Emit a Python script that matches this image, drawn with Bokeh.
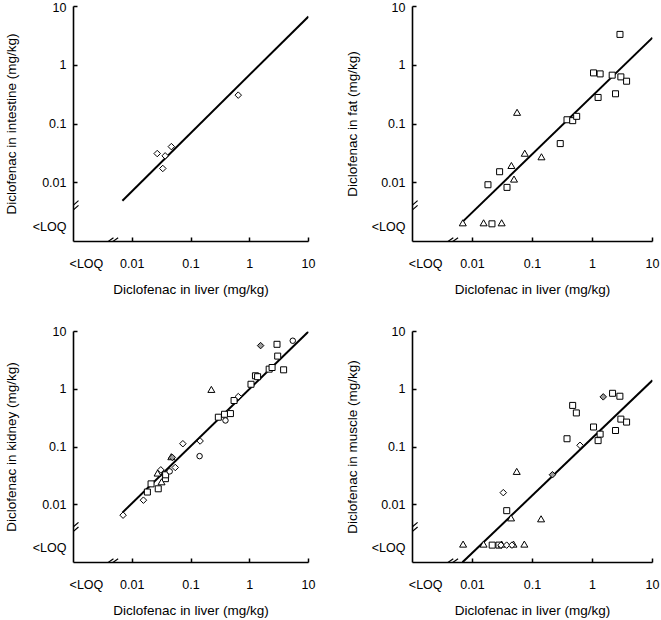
import numpy as np
from bokeh.plotting import figure
from bokeh.models import FixedTicker, Range1d, Arrow
from bokeh.layouts import gridplot
from bokeh.embed import file_html
from bokeh.resources import INLINE

# ---------------- data (mg/kg); None = below limit of quantification ----------------
LOQ_POS = 0.002          # plotting position used for "<LOQ" samples
LOQ_TICK_X = 0.00166     # position of the "<LOQ" label on the x axis
LOQ_TICK_Y = 0.0018      # position of the "<LOQ" label on the y axis
DECADES = [0.01, 0.1, 1.0, 10.0]
DECADE_LABELS = ["0.01", "0.1", "1", "10"]
X_LABEL = "Diclofenac in liver (mg/kg)"

# Intestine
int_diam_liver = [0.0266, 0.0363, 0.0463, 0.0331, 0.637]
int_diam_tissue = [0.0314, 0.0287, 0.0412, 0.0175, 0.31]

# Fat
fat_sq_liver = [2.87, 1.04, 1.34, 2.13, 2.97, 3.70, 1.24, 2.42, 0.376, 0.468, 0.545, 0.290,
                0.0283, 0.0181, 0.0376, 0.0211]
fat_sq_tissue = [3.35, 0.741, 0.713, 0.678, 0.634, 0.535, 0.283, 0.327, 0.118, 0.114, 0.135, 0.0464,
                 0.0154, 0.00925, 0.00834, None]
fat_tri_liver = [0.0553, 0.0743, 0.141, 0.0445, 0.0492, 0.00689, 0.0153, 0.0306]
fat_tri_tissue = [0.152, 0.0306, 0.0266, 0.0189, 0.0111, None, None, None]

# Kidney
kid_diam_liver = [0.00698, 0.0155, 0.0306, 0.054, 0.0727, 0.143, 0.638]
kid_diam_tissue = [0.0066, 0.012, 0.0402, 0.0442, 0.114, 0.127, 0.746]
kid_gdiam_liver = [1.53, 0.048]
kid_gdiam_tissue = [5.70, 0.066]
kid_sq_liver = [0.0181, 0.0209, 0.0277, 0.0367, 0.037, 0.292, 0.372, 0.469, 0.541, 1.05, 1.25, 1.36,
                2.14, 2.40, 2.91, 2.99, 3.77]
kid_sq_tissue = [0.0166, 0.023, 0.0189, 0.0283, 0.033, 0.328, 0.369, 0.379, 0.638, 1.22, 1.71, 1.65,
                 2.23, 2.38, 6.0, 3.75, 2.17]
kid_tri_liver = [0.027, 0.0315, 0.0462, 0.222]
kid_tri_tissue = [0.034, 0.024, 0.0653, 0.955]
kid_circ_liver = [0.0434, 0.14, 0.386, 5.4]
kid_circ_tissue = [0.0378, 0.0695, 0.288, 6.92]

# Muscle
mus_sq_liver = [2.16, 2.86, 0.467, 0.538, 2.97, 3.70, 1.04, 2.42, 1.34, 1.24, 0.376, 0.0372, 0.0213, 0.0276]
mus_sq_tissue = [0.851, 0.757, 0.525, 0.389, 0.304, 0.270, 0.222, 0.193, 0.167, 0.129, 0.139, 0.0079,
                 None, None]
mus_diam_liver = [0.62, 0.0326, 0.0298, 0.0371, 0.0455]
mus_diam_tissue = [0.107, 0.0162, None, None, None]
mus_gdiam_liver = [1.51, 0.215]
mus_gdiam_tissue = [0.738, 0.0331]
mus_tri_liver = [0.0546, 0.0439, 0.139, 0.00697, 0.0153, 0.0306, 0.0482, 0.0731]
mus_tri_tissue = [0.0363, 0.00569, 0.00548, None, None, None, None, None]

# log-log regression lines: log10(tissue) = intercept + slope * log10(liver)
fit_slope = {"intestine": 0.99, "fat": 0.99, "kidney": 0.99, "muscle": 0.995}
fit_intercept = {"intestine": -0.16, "fat": -0.52, "kidney": 0.01, "muscle": -0.84}
fit_x_range = [0.0068, 10.0]

# ---------------- styling ----------------
FONT = "Liberation Sans"
TICK_SIZE = "12.5px"
LABEL_SIZE = "13.5px"
GRAY = "#9c9c9c"
BREAK_X_LOGS = [-2.41, -2.33]
BREAK_Y_LOGS = [-2.46, -2.38]


def loq(vals):
    return [LOQ_POS if v is None else v for v in vals]


def add_series(p, xs, ys, kind, fill="white"):
    kw = dict(fill_color=fill, line_color="black", line_width=1)
    if kind == "diamond":
        p.scatter(xs, loq(ys), marker="square", angle=np.pi / 4, size=4.6, **kw)
    elif kind == "square":
        p.scatter(xs, loq(ys), marker="square", size=6, **kw)
    elif kind == "triangle":
        p.scatter(xs, loq(ys), marker="triangle", size=7, **kw)
    elif kind == "circle":
        p.scatter(xs, loq(ys), marker="circle", size=5.5, **kw)


def make_panel(ylabel, key, width, height, bl, br, bt, bb, ylab_standoff):
    p = figure(width=width, height=height, x_axis_type="log", y_axis_type="log",
               x_range=Range1d(1e-3, 10), y_range=Range1d(1e-3, 10),
               output_backend="svg", toolbar_location=None,
               min_border_left=bl, min_border_right=br, min_border_top=bt, min_border_bottom=bb)
    p.grid.visible = False
    p.outline_line_color = None
    p.background_fill_color = "white"
    p.border_fill_color = "white"

    for ax, lab, loq_tick in ((p.xaxis[0], X_LABEL, LOQ_TICK_X), (p.yaxis[0], ylabel, LOQ_TICK_Y)):
        ax.ticker = FixedTicker(ticks=[loq_tick] + DECADES, minor_ticks=DECADES)
        overrides = {loq_tick: "<LOQ"}
        for d, t in zip(DECADES, DECADE_LABELS):
            overrides[d] = t
        ax.major_label_overrides = overrides
        ax.axis_label = lab
        ax.axis_label_text_font = FONT
        ax.axis_label_text_font_size = LABEL_SIZE
        ax.axis_label_text_font_style = "normal"
        ax.axis_label_text_color = "black"
        ax.major_label_text_font = FONT
        ax.major_label_text_font_size = TICK_SIZE
        ax.major_label_text_color = "black"
        ax.axis_line_color = "black"
        ax.axis_line_width = 1.6
        ax.major_tick_in = 0
        ax.major_tick_out = 0
        ax.minor_tick_in = 4
        ax.minor_tick_out = 0
        ax.minor_tick_line_color = "black"
        ax.minor_tick_line_width = 1.5
    p.xaxis.major_label_standoff = 15
    p.xaxis.axis_label_standoff = 8
    p.yaxis.major_label_standoff = 7
    p.yaxis.axis_label_standoff = ylab_standoff

    # regression line
    xl = np.array(fit_x_range)
    yl = 10 ** (fit_intercept[key] + fit_slope[key] * np.log10(xl))
    p.line(xl, yl, line_color="black", line_width=2)

    # axis breaks
    for lx in BREAK_X_LOGS:
        p.add_layout(Arrow(start=None, end=None, line_width=1.2, line_color="black",
                           x_start=10 ** (lx - 0.09), y_start=10 ** (-3 - 0.065),
                           x_end=10 ** (lx + 0.09), y_end=10 ** (-3 + 0.065)))
    for ly in BREAK_Y_LOGS:
        p.add_layout(Arrow(start=None, end=None, line_width=1.2, line_color="black",
                           x_start=10 ** (-3 - 0.085), y_start=10 ** (ly - 0.075),
                           x_end=10 ** (-3 + 0.085), y_end=10 ** (ly + 0.075)))
    return p


p1 = make_panel("Diclofenac in intestine (mg/kg)", "intestine", 330, 310, 68, 22, 6, 69, 11)
add_series(p1, int_diam_liver, int_diam_tissue, "diamond")

p2 = make_panel("Diclofenac in fat (mg/kg)", "fat", 331, 310, 82, 9, 6, 69, 9)
add_series(p2, fat_sq_liver, fat_sq_tissue, "square")
add_series(p2, fat_tri_liver, fat_tri_tissue, "triangle")

p3 = make_panel("Diclofenac in kidney (mg/kg)", "kidney", 330, 310, 68, 22, 21, 54, 11)
add_series(p3, kid_sq_liver, kid_sq_tissue, "square")
add_series(p3, kid_circ_liver, kid_circ_tissue, "circle")
add_series(p3, kid_tri_liver, kid_tri_tissue, "triangle")
add_series(p3, kid_diam_liver, kid_diam_tissue, "diamond")
add_series(p3, kid_gdiam_liver, kid_gdiam_tissue, "diamond", fill=GRAY)

p4 = make_panel("Diclofenac in muscle (mg/kg)", "muscle", 331, 310, 82, 9, 21, 54, 9)
add_series(p4, mus_sq_liver, mus_sq_tissue, "square")
add_series(p4, mus_tri_liver, mus_tri_tissue, "triangle")
add_series(p4, mus_diam_liver, mus_diam_tissue, "diamond")
add_series(p4, mus_gdiam_liver, mus_gdiam_tissue, "diamond", fill=GRAY)

grid = gridplot([[p1, p2], [p3, p4]], toolbar_location=None)
open("out.html", "w").write(file_html(grid, INLINE))
